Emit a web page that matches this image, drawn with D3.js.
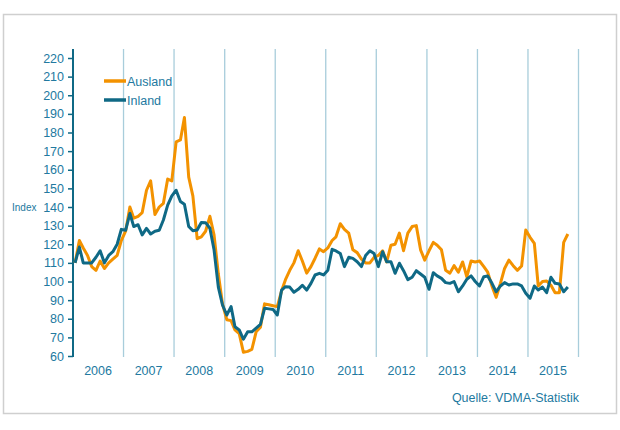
<!DOCTYPE html>
<html><head><meta charset="utf-8">
<script src="https://cdn.jsdelivr.net/npm/d3@7"></script>
<style>
html,body{margin:0;padding:0;background:#fff;}
svg{display:block;font-family:"Liberation Sans",Arial,sans-serif;}
</style></head>
<body><svg id="c" width="620" height="430"></svg>
<script>
const years = [2006, 2007, 2008, 2009, 2010, 2011, 2012, 2013, 2014, 2015];
const yTicks = [60, 70, 80, 90, 100, 110, 120, 130, 140, 150, 160, 170, 180, 190, 200, 210, 220];
const seriesNames = ["Ausland", "Inland"];
// monthly index values, Jan 2006 – Oct 2015
const ausland = [
  110, 122, 118, 114, 108, 106, 111, 107, 110, 112, 114, 122,
  127, 140, 134, 135, 137, 149, 154, 136, 140, 142, 155, 154,
  175, 176, 188, 156, 146, 123, 124, 127, 135, 125, 104, 88,
  79.5, 79, 74, 72, 62, 62.5, 63.5, 73, 75.5, 88, 87.5, 87,
  86.5, 95, 101, 106, 110, 116.5, 111, 104.5, 108, 112.5, 117.5, 116,
  118, 122, 124, 131, 128, 126, 117, 115.5, 112, 110, 110, 113,
  114, 116.5, 110.5, 119.5, 120, 126, 116.5, 126, 129.5, 130, 117, 111.5,
  116.5, 121, 119.5, 117, 106, 104.5, 108.5, 105, 110.5, 102.5, 111, 110.5,
  111, 108, 105, 97.5, 91.5, 99, 107, 111.5, 108.5, 106, 108.3, 127.7,
  123.7, 120.5, 97.6, 100, 100.3, 98, 94, 94, 121, 125.5
];
const inland = [
  110, 118.5, 110, 110, 110, 113, 116.5, 110, 114, 116, 120, 128,
  127.5, 136.5, 129.5, 130.5, 125, 128.5, 125.5, 127, 127.5, 133, 141, 146,
  149, 143, 141.5, 129.5, 127.3, 127.7, 131.7, 131.6, 128.6, 117, 97, 87.4,
  82, 86.5, 75.7, 74, 69, 73, 73, 75, 77, 85.6, 85.3, 85,
  82, 95.4, 97.2, 97, 94.2, 95.8, 98, 95.4, 99, 103.5, 104.4, 103.5,
  106, 117.3, 116.4, 115, 108, 113, 112.4, 110.6, 108, 114, 116.5, 115,
  108, 116, 110.6, 110.6, 104.4, 109.8, 105.8, 101, 102.3, 105.8, 104, 102.3,
  95.8, 104.7, 103, 101.7, 99.4, 99, 100, 94.5, 97.6, 101.2, 103, 100,
  97.6, 102.6, 103, 99, 94.5, 97.6, 99.4, 98.1, 98.7, 98.7, 97.6, 93.7,
  91, 97.6, 95.4, 97, 94, 102.3, 99, 98.7, 94.5, 97
];
const source = "Quelle: VDMA-Statistik";
const yLabel = "Index";

const C_ORANGE = "#f39200", C_TEAL = "#0f6985", C_TEXT = "#2279a0", C_GRID = "#a8cddb";
const svg = d3.select("#c");

// frame
svg.append("rect").attr("x", 3.5).attr("y", 14.5).attr("width", 613).attr("height", 399)
  .attr("fill", "none").attr("stroke", "#cfcfcf").attr("stroke-width", 1.5);

const x = d3.scaleTime().domain([new Date(2006, 0, 1), new Date(2016, 0, 1)]).range([73, 578.5]);
const y = d3.scaleLinear().domain([60, 220]).range([356, 58]);
const plotTop = 49, plotBottom = 357;
const dateOf = i => new Date(2006, i, 16);

// year separators
const seps = years.map(yr => new Date(yr + 1, 0, 1));
svg.append("g").selectAll("line").data(seps).join("line")
  .attr("x1", d => x(d)).attr("x2", d => x(d)).attr("y1", plotTop).attr("y2", plotBottom)
  .attr("stroke", C_GRID).attr("stroke-width", 1.3);

// y axis
const yAxis = d3.axisLeft(y).tickValues(yTicks).tickSize(5).tickPadding(4);
const gy = svg.append("g").attr("transform", "translate(73,0)").call(yAxis);
gy.select(".domain").remove();
gy.selectAll(".tick line").attr("stroke", C_TEAL).attr("stroke-width", 1.5);
gy.selectAll(".tick text").attr("fill", C_TEXT).attr("font-size", 12.5)
  .attr("font-family", "Liberation Sans, Arial, sans-serif");
svg.append("line").attr("x1", 73).attr("x2", 73).attr("y1", plotTop).attr("y2", plotBottom)
  .attr("stroke", C_TEAL).attr("stroke-width", 2);

svg.append("text").attr("x", 12).attr("y", 211).attr("fill", C_TEXT)
  .attr("font-size", 10).text(yLabel);

// x labels
svg.append("g").selectAll("text").data(years).join("text")
  .attr("x", d => x(new Date(d, 6, 1))).attr("y", 375).attr("text-anchor", "middle")
  .attr("fill", C_TEXT).attr("font-size", 12.5).text(d => d);

// lines
const line = d3.line().x((d, i) => x(dateOf(i))).y(d => y(d)).curve(d3.curveLinear);
const data = [ausland, inland];
const colors = [C_ORANGE, C_TEAL];
svg.append("g").selectAll("path").data(data).join("path")
  .attr("d", d => line(d)).attr("fill", "none")
  .attr("stroke", (d, i) => colors[i]).attr("stroke-width", 3).attr("stroke-linejoin", "round");

// legend
const lg = svg.append("g").selectAll("g").data(seriesNames).join("g")
  .attr("transform", (d, i) => `translate(104,${81 + i * 19})`);
lg.append("line").attr("x1", 0).attr("x2", 22).attr("y1", 0).attr("y2", 0)
  .attr("stroke", (d, i) => colors[i]).attr("stroke-width", 3.5);
lg.append("text").attr("x", 23).attr("y", 4.5).attr("fill", C_TEXT).attr("font-size", 12.5).text(d => d);

svg.append("text").attr("x", 579).attr("y", 402).attr("text-anchor", "end")
  .attr("fill", C_TEXT).attr("font-size", 12.5).text(source);
</script></body></html>
